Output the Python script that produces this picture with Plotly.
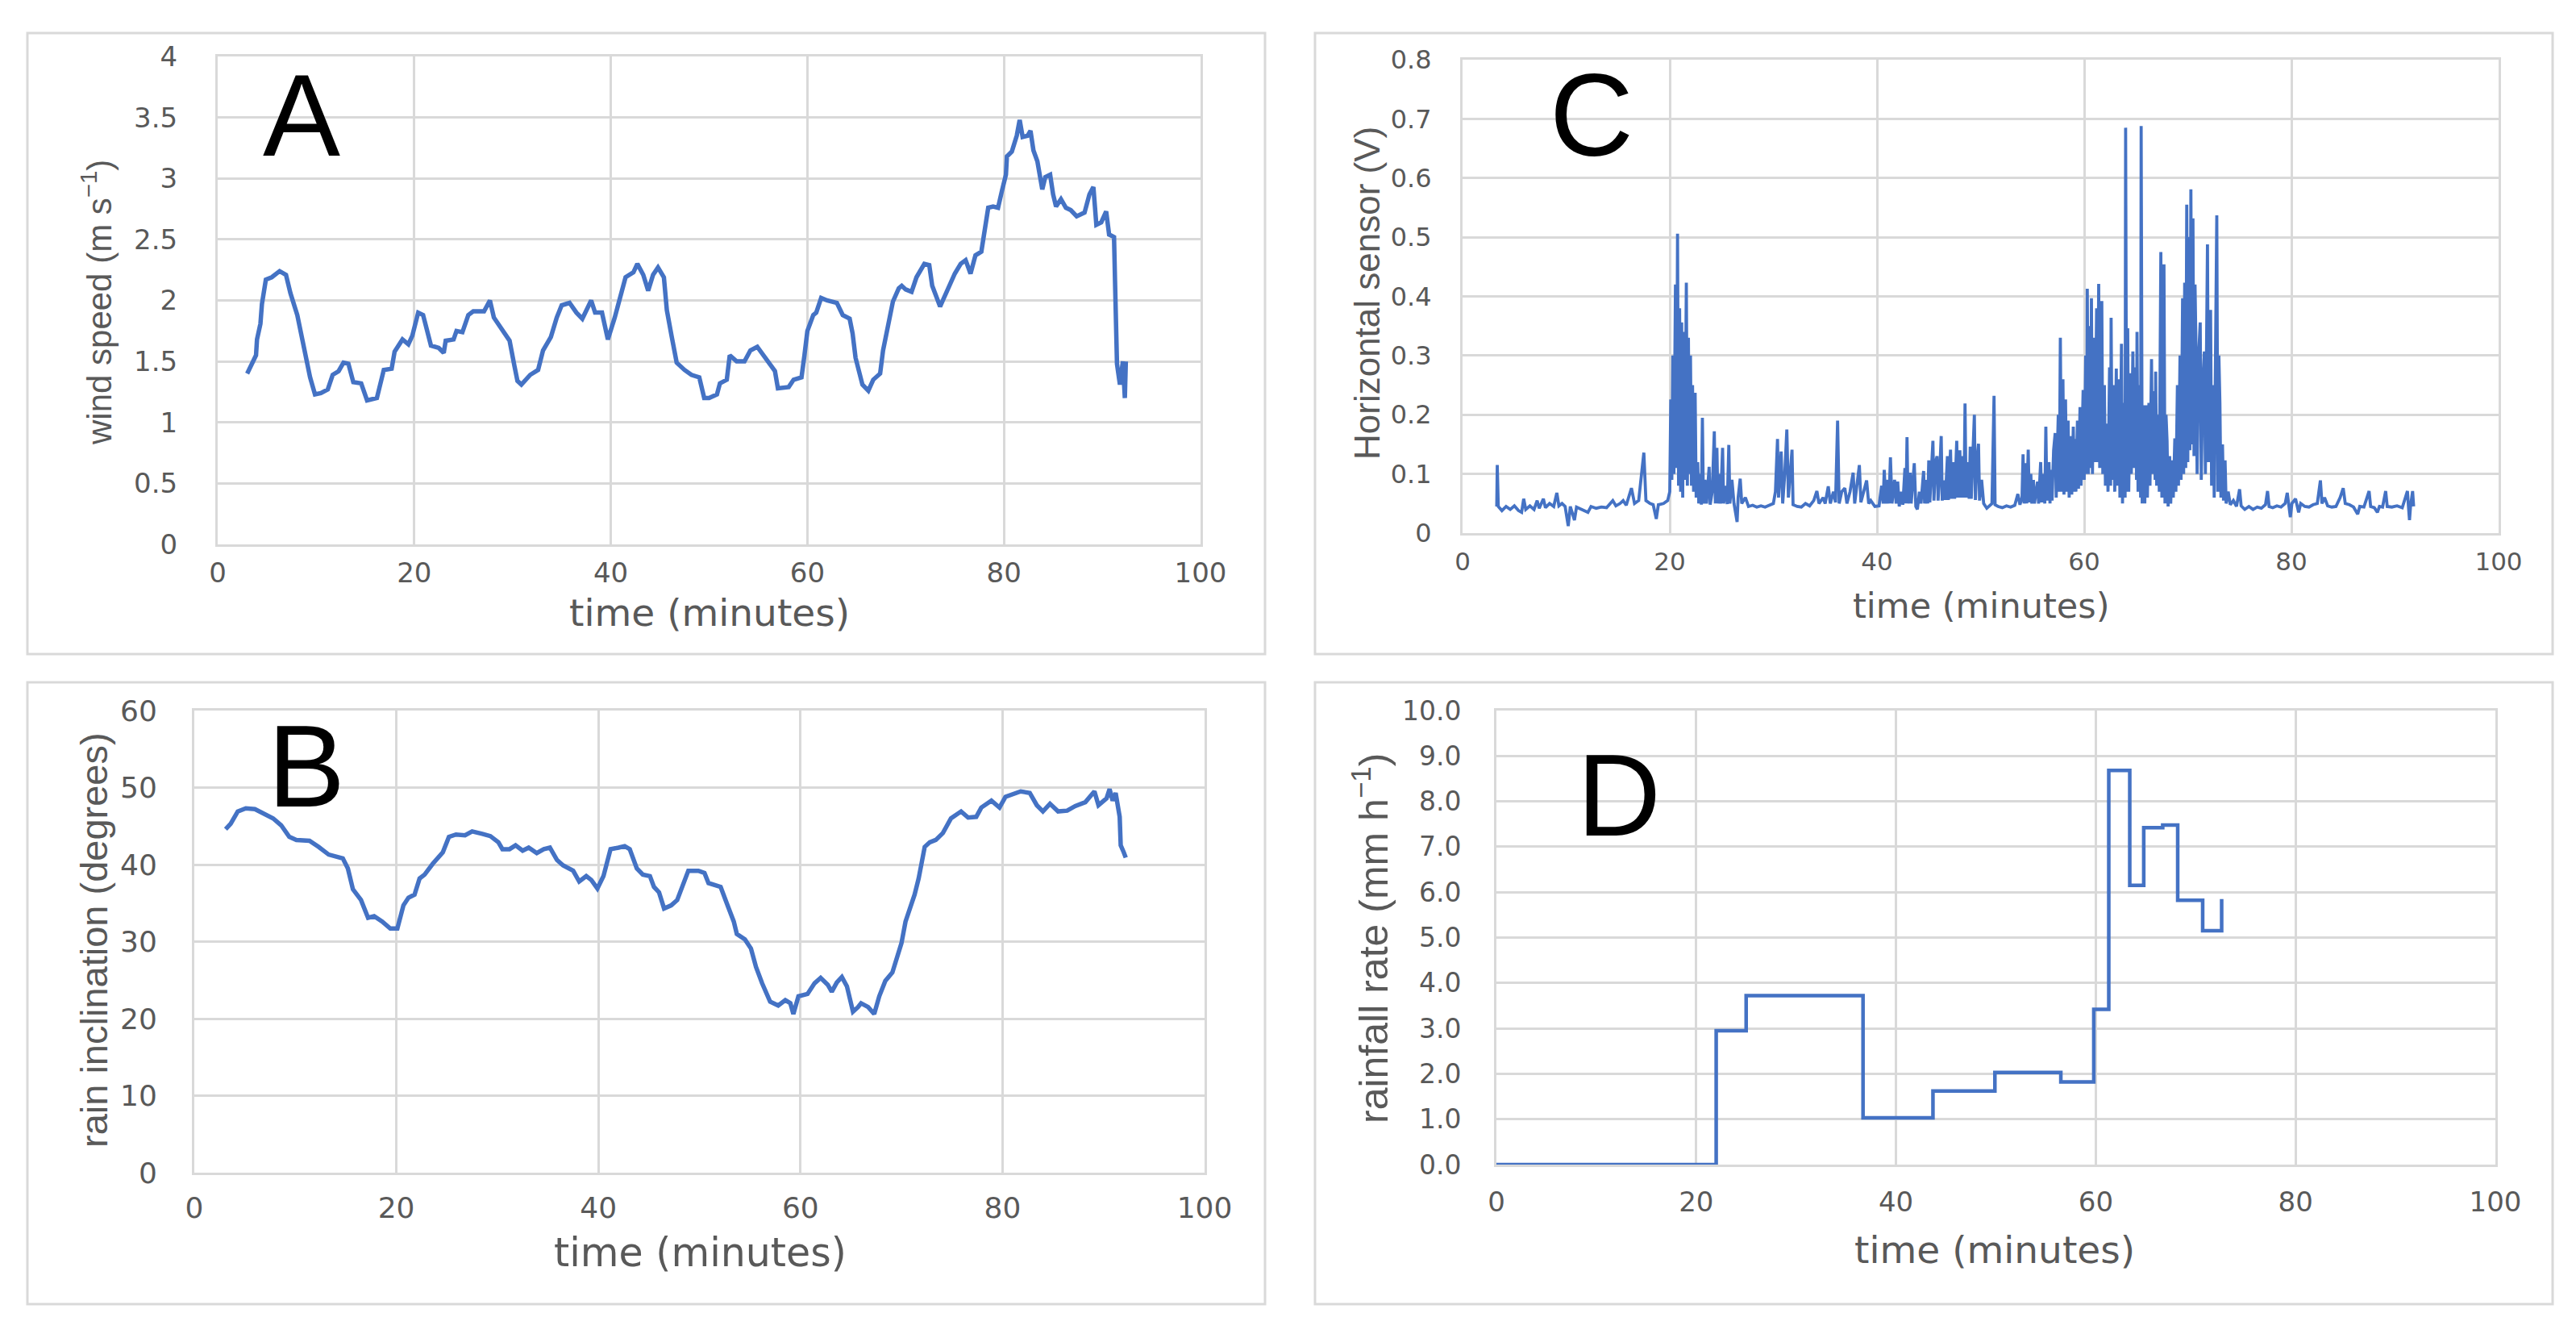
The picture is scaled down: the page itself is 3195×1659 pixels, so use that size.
import plotly.graph_objects as go

# canvas size (px) - positions below are given in canvas pixels
W, H = 3195, 1659

# ---- A: wind speed ----
a_time = [3.0, 3.4, 3.9, 4.0, 4.35, 4.5, 4.9, 5.5, 6.3, 6.95,
          7.4, 8.1, 8.6, 9.1, 9.4, 9.9, 10.5, 11.2, 11.7, 12.3,
          12.8, 13.3, 13.8, 14.6, 15.2, 16.2, 16.9, 17.7, 18.0, 18.8,
          19.4, 19.8, 20.4, 20.9, 21.7, 22.5, 23.0, 23.2, 24.0, 24.3,
          24.9, 25.5, 26.0, 27.1, 27.7, 28.1, 28.9, 29.7, 30.2, 30.5,
          30.9, 31.8, 32.6, 33.1, 33.9, 34.5, 35.0, 35.8, 36.5, 37.1,
          38.0, 38.4, 39.1, 39.7, 40.4, 41.0, 41.5, 42.3, 42.7, 43.3,
          43.8, 44.3, 44.8, 45.4, 45.7, 46.2, 46.7, 47.5, 48.2, 49.0,
          49.5, 50.0, 50.8, 51.1, 51.8, 52.1, 52.8, 53.6, 54.2, 54.9,
          55.5, 56.2, 56.7, 57.0, 58.1, 58.6, 59.4, 59.7, 60.0, 60.6,
          60.9, 61.4, 62.0, 63.0, 63.6, 64.3, 64.6, 64.9, 65.6, 66.2,
          66.7, 67.4, 67.7, 68.2, 68.7, 69.3, 69.6, 70.0, 70.6, 71.1,
          71.9, 72.4, 72.7, 73.5, 74.2, 75.0, 75.6, 76.1, 76.6, 77.1,
          77.7, 78.0, 78.4, 78.9, 79.4, 79.8, 80.2, 80.3, 80.8, 81.3,
          81.6, 81.9, 82.4, 82.7, 83.0, 83.4, 83.7, 83.9, 84.2, 84.7,
          85.0, 85.3, 85.8, 86.3, 86.8, 87.4, 88.2, 88.7, 89.1, 89.4,
          89.9, 90.4, 90.7, 91.2, 91.3, 91.5, 91.8, 92.1, 92.3, 92.4]
a_speed = [1.40, 1.46, 1.55, 1.68, 1.81, 1.97, 2.17, 2.19, 2.24, 2.21,
           2.06, 1.88, 1.68, 1.50, 1.37, 1.23, 1.24, 1.27, 1.39, 1.42,
           1.49, 1.48, 1.33, 1.32, 1.18, 1.20, 1.43, 1.44, 1.58, 1.68,
           1.64, 1.71, 1.90, 1.88, 1.63, 1.61, 1.57, 1.67, 1.68, 1.75,
           1.74, 1.88, 1.91, 1.91, 2.00, 1.86, 1.77, 1.67, 1.46, 1.34,
           1.31, 1.39, 1.43, 1.59, 1.70, 1.86, 1.96, 1.98, 1.90, 1.85,
           2.00, 1.90, 1.90, 1.68, 1.86, 2.06, 2.19, 2.23, 2.30, 2.21,
           2.08, 2.21, 2.27, 2.19, 1.92, 1.70, 1.49, 1.43, 1.39, 1.37,
           1.20, 1.20, 1.23, 1.32, 1.35, 1.55, 1.50, 1.50, 1.59, 1.62,
           1.55, 1.48, 1.42, 1.28, 1.29, 1.35, 1.37, 1.55, 1.75, 1.88,
           1.90, 2.02, 2.00, 1.98, 1.88, 1.85, 1.73, 1.53, 1.31, 1.26,
           1.35, 1.40, 1.59, 1.79, 1.99, 2.10, 2.12, 2.09, 2.07, 2.19,
           2.30, 2.29, 2.12, 1.95, 2.08, 2.22, 2.30, 2.33, 2.22, 2.37,
           2.40, 2.56, 2.76, 2.77, 2.76, 2.90, 3.03, 3.18, 3.22, 3.35,
           3.48, 3.34, 3.35, 3.39, 3.23, 3.14, 3.01, 2.91, 3.01, 3.03,
           2.87, 2.77, 2.83, 2.76, 2.74, 2.69, 2.72, 2.87, 2.93, 2.62,
           2.64, 2.73, 2.54, 2.52, 2.16, 1.48, 1.31, 1.50, 1.20, 1.50]

# ---- B: rain inclination ----
b_time = [3.1, 3.6, 4.3, 5.1, 6.0, 6.8, 7.8, 8.6, 9.4, 10.1,
          11.4, 12.3, 13.3, 14.7, 15.2, 15.7, 16.5, 17.2, 17.8, 18.6,
          19.4, 20.1, 20.7, 21.2, 21.8, 22.3, 22.8, 23.6, 24.6, 25.2,
          25.9, 26.8, 27.5, 28.5, 29.3, 30.1, 30.5, 31.2, 31.8, 32.5,
          33.1, 33.9, 34.6, 35.2, 35.9, 36.5, 37.5, 38.1, 38.8, 39.3,
          39.9, 40.5, 41.2, 42.0, 42.6, 43.1, 43.8, 44.4, 45.1, 45.5,
          46.0, 46.5, 47.2, 47.8, 48.5, 48.9, 49.9, 50.5, 50.9, 52.1,
          52.7, 53.4, 53.7, 54.5, 55.1, 55.6, 56.2, 57.0, 57.8, 58.5,
          59.0, 59.3, 59.8, 60.7, 61.4, 62.0, 62.7, 63.1, 63.6, 64.1,
          64.6, 65.2, 65.7, 66.0, 66.7, 67.3, 67.8, 68.4, 69.1, 69.6,
          70.0, 70.4, 70.8, 71.3, 71.7, 72.0, 72.3, 72.8, 73.4, 74.1,
          74.9, 75.9, 76.6, 77.4, 77.9, 78.9, 79.7, 80.3, 81.1, 81.8,
          82.7, 83.4, 84.0, 84.7, 85.5, 86.4, 87.2, 88.2, 89.1, 89.5,
          90.3, 90.6, 90.9, 91.2, 91.6, 91.7, 92.0, 92.2]
b_deg = [44.6, 45.3, 46.9, 47.3, 47.2, 46.7, 46.0, 45.1, 43.6, 43.2,
         43.1, 42.3, 41.3, 40.8, 39.5, 36.8, 35.4, 33.1, 33.3, 32.6,
         31.7, 31.7, 34.7, 35.7, 36.1, 38.2, 38.7, 40.1, 41.6, 43.6,
         43.9, 43.8, 44.3, 44.0, 43.7, 42.9, 42.0, 42.0, 42.5, 41.8,
         42.2, 41.5, 42.0, 42.2, 40.6, 39.9, 39.2, 37.8, 38.5, 38.0,
         36.9, 38.5, 42.0, 42.2, 42.4, 42.0, 39.5, 38.7, 38.5, 37.1,
         36.4, 34.3, 34.7, 35.4, 37.8, 39.2, 39.2, 38.9, 37.6, 37.1,
         35.0, 32.6, 31.0, 30.3, 29.1, 26.7, 24.6, 22.2, 21.7, 22.4,
         22.0, 20.6, 22.9, 23.2, 24.6, 25.3, 24.4, 23.5, 24.7, 25.4,
         24.2, 20.9, 21.5, 22.0, 21.5, 20.6, 22.9, 24.9, 26.0, 28.0,
         29.8, 32.6, 34.0, 36.1, 38.2, 40.2, 42.3, 42.9, 43.2, 44.1,
         46.0, 46.9, 46.1, 46.2, 47.4, 48.3, 47.4, 48.8, 49.1, 49.5,
         49.3, 47.7, 46.9, 47.9, 46.9, 47.0, 47.6, 48.1, 49.5, 47.7,
         48.6, 49.8, 48.3, 49.3, 46.2, 42.5, 41.6, 40.9]

# ---- C: horizontal sensor ----
c_time = [3.3, 3.35, 3.45, 3.8, 4.2, 4.6, 5.0, 5.4, 5.7, 5.9,
          6.1, 6.5, 6.9, 7.2, 7.4, 7.8, 8.0, 8.4, 8.8, 9.1,
          9.3, 9.6, 9.9, 10.2, 10.4, 10.8, 11.0, 11.5, 12.1, 12.4,
          12.9, 13.4, 13.9, 14.5, 14.8, 15.2, 15.5, 15.8, 16.3, 16.6,
          17.0, 17.5, 17.7, 18.1, 18.4, 18.7, 18.9, 19.4, 19.8, 20.0,
          20.1, 20.2, 20.3, 20.4, 20.55, 20.65, 20.75, 20.85, 20.95, 21.05,
          21.15, 21.25, 21.35, 21.45, 21.6, 21.7, 21.8, 21.9, 22.0, 22.1,
          22.2, 22.3, 22.45, 22.55, 22.7, 22.8, 22.95, 23.05, 23.15, 23.25,
          23.4, 23.55, 23.8, 23.9, 24.1, 24.3, 24.4, 24.55, 24.65, 24.8,
          24.9, 25.1, 25.2, 25.4, 25.55, 25.7, 25.8, 26.0, 26.2, 26.5,
          26.6, 26.8, 26.95, 27.3, 27.6, 28.0, 28.4, 28.8, 29.2, 29.6,
          30.0, 30.2, 30.4, 30.5, 30.75, 30.9, 31.1, 31.3, 31.45, 31.8,
          31.9, 32.3, 32.7, 33.1, 33.5, 33.9, 34.2, 34.4, 34.8, 35.0,
          35.3, 35.5, 35.8, 36.0, 36.2, 36.35, 36.6, 36.9, 37.1, 37.4,
          37.7, 37.85, 38.05, 38.3, 38.45, 38.7, 39.0, 39.2, 39.4, 39.8,
          40.2, 40.45, 40.6, 40.7, 40.85, 41.05, 41.15, 41.3, 41.45, 41.7,
          41.85, 42.0, 42.15, 42.35, 42.5, 42.7, 42.8, 42.9, 43.0, 43.2,
          43.3, 43.6, 43.75, 43.9, 44.1, 44.25, 44.5, 44.6, 44.8, 44.9,
          45.0, 45.1, 45.25, 45.4, 45.5, 45.65, 45.8, 45.9, 46.05, 46.2,
          46.3, 46.5, 46.6, 46.8, 46.9, 47.1, 47.2, 47.4, 47.5, 47.7,
          47.8, 48.0, 48.1, 48.3, 48.4, 48.5, 48.6, 48.8, 48.9, 49.0,
          49.1, 49.25, 49.4, 49.5, 49.65, 49.8, 49.9, 50.1, 50.3, 50.6,
          50.9, 51.1, 51.3, 51.4, 51.7, 52.1, 52.5, 52.9, 53.3, 53.6,
          53.8, 54.0, 54.1, 54.2, 54.35, 54.45, 54.6, 54.7, 54.85, 54.95,
          55.1, 55.2, 55.5, 55.6, 55.8, 55.9, 56.1, 56.2, 56.3, 56.4,
          56.6, 56.7, 56.8, 56.9, 57.05, 57.2, 57.3, 57.5, 57.6, 57.7,
          57.8, 57.95, 58.05, 58.2, 58.3, 58.45, 58.55, 58.7, 58.8, 58.95,
          59.05, 59.1, 59.2, 59.35, 59.45, 59.6, 59.7, 59.9, 60.0, 60.15,
          60.25, 60.3, 60.4, 60.55, 60.65, 60.7, 60.8, 60.95, 61.05, 61.2,
          61.3, 61.4, 61.5, 61.6, 61.7, 61.8, 61.95, 62.05, 62.2, 62.3,
          62.45, 62.55, 62.6, 62.7, 62.85, 62.95, 63.1, 63.2, 63.35, 63.45,
          63.6, 63.7, 63.85, 63.95, 64.0, 64.1, 64.2, 64.3, 64.45, 64.55,
          64.7, 64.8, 64.95, 65.05, 65.1, 65.2, 65.35, 65.45, 65.5, 65.6,
          65.75, 65.85, 66.0, 66.1, 66.25, 66.35, 66.5, 66.6, 66.75, 66.85,
          66.9, 67.0, 67.15, 67.25, 67.4, 67.5, 67.6, 67.7, 67.8, 67.9,
          68.0, 68.1, 68.25, 68.35, 68.5, 68.6, 68.75, 68.85, 69.0, 69.1,
          69.25, 69.35, 69.5, 69.6, 69.7, 69.8, 69.9, 70.0, 70.1, 70.2,
          70.3, 70.4, 70.5, 70.6, 70.7, 70.8, 70.9, 71.05, 71.2, 71.3,
          71.45, 71.6, 71.7, 71.9, 72.0, 72.1, 72.2, 72.3, 72.45, 72.55,
          72.8, 72.9, 73.0, 73.1, 73.2, 73.35, 73.45, 73.6, 73.7, 73.9,
          74.1, 74.4, 74.7, 75.0, 75.15, 75.5, 75.9, 76.3, 76.7, 77.1,
          77.5, 77.7, 77.85, 78.2, 78.6, 79.0, 79.4, 79.6, 79.75, 79.9,
          80.05, 80.4, 80.7, 80.9, 81.3, 81.7, 82.1, 82.5, 82.8, 82.95,
          83.2, 83.5, 83.9, 84.3, 84.7, 85.0, 85.2, 85.6, 86.0, 86.4,
          86.6, 87.0, 87.5, 87.65, 88.0, 88.3, 88.5, 88.8, 89.1, 89.25,
          89.7, 90.2, 90.7, 91.2, 91.3, 91.4, 91.5, 91.7, 91.8]
c_volt = [.045, .115, .045, .038, .045, .040, .046, .038, .035, .058,
          .040, .046, .040, .055, .042, .058, .043, .050, .045, .068,
          .046, .050, .045, .012, .045, .022, .044, .040, .035, .045,
          .042, .044, .043, .055, .046, .050, .055, .047, .076, .050,
          .055, .136, .055, .050, .048, .024, .048, .050, .055, .070,
          .226, .090, .300, .100, .420, .110, .506, .080, .380, .070,
          .356, .060, .340, .090, .423, .080, .330, .100, .300, .080,
          .250, .070, .237, .060, .120, .050, .100, .048, .195, .050,
          .090, .050, .112, .048, .070, .172, .050, .144, .050, .100,
          .050, .144, .050, .080, .049, .149, .050, .090, .050, .019,
          .060, .092, .050, .060, .045, .047, .044, .046, .044, .047,
          .050, .070, .159, .060, .138, .050, .100, .175, .060, .141,
          .048, .045, .044, .050, .046, .055, .071, .050, .060, .050,
          .079, .050, .070, .052, .190, .050, .070, .076, .050, .070,
          .102, .050, .080, .115, .052, .070, .089, .050, .055, .045,
          .046, .080, .050, .107, .050, .090, .050, .128, .050, .090,
          .050, .087, .045, .070, .048, .110, .050, .162, .050, .102,
          .050, .118, .045, .040, .070, .050, .105, .050, .090, .050,
          .123, .052, .110, .156, .055, .120, .130, .055, .100, .164,
          .055, .089, .056, .130, .056, .141, .058, .120, .058, .156,
          .060, .140, .060, .130, .060, .219, .060, .120, .058, .146,
          .058, .130, .200, .056, .120, .151, .055, .090, .050, .042,
          .046, .050, .232, .048, .045, .043, .046, .044, .047, .066,
          .048, .060, .133, .050, .118, .050, .141, .052, .100, .050,
          .090, .050, .087, .050, .120, .052, .100, .050, .180, .055,
          .120, .050, .107, .055, .140, .169, .060, .200, .070, .330,
          .070, .260, .065, .226, .070, .190, .060, .164, .065, .180,
          .070, .159, .070, .190, .075, .213, .080, .242, .090, .300,
          .100, .413, .100, .350, .110, .397, .100, .330, .120, .380,
          .120, .421, .110, .360, .392, .100, .250, .080, .185, .070,
          .280, .080, .364, .090, .250, .070, .278, .080, .260, .060,
          .320, .050, .220, .060, .685, .070, .346, .070, .270, .100,
          .307, .110, .280, .090, .340, .070, .250, .060, .688, .050,
          .216, .050, .216, .060, .220, .080, .294, .100, .240, .090,
          .273, .080, .200, .070, .475, .060, .420, .454, .050, .200,
          .156, .045, .130, .050, .123, .060, .160, .070, .250, .080,
          .300, .090, .397, .100, .423, .110, .555, .120, .500, .140,
          .581, .150, .532, .130, .420, .304, .100, .300, .356, .090,
          .250, .307, .100, .488, .120, .300, .377, .080, .250, .060,
          .537, .070, .300, .221, .060, .150, .055, .123, .050, .070,
          .048, .055, .045, .074, .046, .040, .045, .040, .044, .042,
          .048, .071, .045, .043, .046, .044, .050, .068, .045, .027,
          .050, .058, .035, .050, .045, .044, .048, .050, .089, .050,
          .060, .046, .044, .045, .060, .076, .050, .048, .044, .032,
          .045, .044, .071, .045, .043, .035, .045, .044, .071, .045,
          .044, .046, .043, .071, .045, .022, .045, .071, .045]

# ---- D: rainfall rate (step) ----
d_time = [0, 22.0, 25.0, 36.7, 43.7, 49.9, 56.5, 59.8, 61.3, 63.4, 64.8, 66.7, 68.2, 70.7, 72.6]
d_rate = [0.0, 2.95, 3.72, 1.03, 1.62, 2.03, 1.82, 3.42, 8.68, 6.15, 7.42, 7.48, 5.82, 5.15, 5.85]

BLUE = "#4472C4"
GRID = "#D9D9D9"
TXT = "#595959"


def px(x):
    return x / W


def py(y):
    return 1 - y / H


def xax(x0, x1, anchor, size, ticklen):
    return dict(domain=[px(x0), px(x1)], anchor=anchor, range=[0, 100], dtick=20, tick0=0,
                showgrid=True, gridcolor=GRID, gridwidth=2.5, zeroline=False, automargin=False,
                showline=True, linecolor=GRID, linewidth=3, mirror=True,
                ticks="outside", ticklen=ticklen, tickcolor="rgba(0,0,0,0)",
                tickfont=dict(family="DejaVu Sans", size=size, color=TXT))


def yax(y0, y1, anchor, rng, dtick, size, ticklen, fmt=""):
    return dict(domain=[py(y1), py(y0)], anchor=anchor, range=rng, dtick=dtick, tick0=0,
                tickformat=fmt, showgrid=True, gridcolor=GRID, gridwidth=3, zeroline=False,
                automargin=False, showline=True, linecolor=GRID, linewidth=3, mirror=True,
                ticks="outside", ticklen=ticklen, tickcolor="rgba(0,0,0,0)",
                tickfont=dict(family="DejaVu Sans", size=size, color=TXT))


fig = go.Figure()
fig.add_trace(go.Scatter(x=a_time, y=a_speed, mode="lines",
                         line=dict(color=BLUE, width=5.5), xaxis="x", yaxis="y"))
fig.add_trace(go.Scatter(x=c_time, y=c_volt, mode="lines",
                         line=dict(color=BLUE, width=3.8), xaxis="x2", yaxis="y2"))
fig.add_trace(go.Scatter(x=b_time, y=b_deg, mode="lines",
                         line=dict(color=BLUE, width=5.5), xaxis="x3", yaxis="y3"))
fig.add_trace(go.Scatter(x=d_time, y=d_rate, mode="lines", line_shape="hv",
                         line=dict(color=BLUE, width=4.5), xaxis="x4", yaxis="y4"))

# panel frames
frames = [(34, 41, 1569, 811), (1631, 41, 3166, 811),
          (34, 846, 1569, 1617), (1631, 846, 3166, 1617)]
shapes = [dict(type="rect", xref="paper", yref="paper",
               x0=px(a), x1=px(c), y0=py(d), y1=py(b),
               line=dict(color=GRID, width=3), layer="below")
          for a, b, c, d in frames]

ann = []


def label(x, y, text, size, angle=0, family="DejaVu Sans", color=TXT):
    ann.append(dict(x=px(x), y=py(y), xref="paper", yref="paper", text=text,
                    showarrow=False, textangle=angle, xanchor="center", yanchor="middle",
                    font=dict(family=family, size=size, color=color)))


# x titles
label(880, 759, "time (minutes)", 47)
label(2457, 751, "time (minutes)", 43)
label(868, 1553, "time (minutes)", 49)
label(2474, 1549, "time (minutes)", 47)
# y titles
label(120, 375, "wind speed (m s<sup>−1</sup>)", 42, -90, "Liberation Sans")
label(1695, 364, "Horizontal sensor (V)", 44, -90, "Liberation Sans")
label(116, 1166, "rain inclination (degrees)", 47, -90, "Liberation Sans")
label(1700, 1164, "rainfall rate (mm h<sup>−1</sup>)", 50, -90, "Liberation Sans")
# panel letters
for x, y, t in [(374, 143, "A"), (1974, 144, "C"), (380, 950, "B"), (2008, 986, "D")]:
    label(x, y, t, 144, 0, "Liberation Sans", "black")

fig.update_layout(
    width=W, height=H, margin=dict(l=0, r=0, t=0, b=0, pad=0),
    paper_bgcolor="white", plot_bgcolor="white", showlegend=False,
    xaxis=xax(270, 1489, "y", 34, 3),
    yaxis=yax(70, 675, "x", [0, 4], 0.5, 34, 40),
    xaxis2=xax(1814, 3099, "y2", 31, 6),
    yaxis2=yax(74, 661, "x2", [0, 0.8], 0.1, 32, 29),
    xaxis3=xax(241, 1494, "y3", 36, 10),
    yaxis3=yax(881, 1454, "x3", [0, 60], 10, 36, 36),
    xaxis4=xax(1856, 3095, "y4", 34, 14),
    yaxis4=yax(881, 1444, "x4", [0, 10], 1, 33, 34, ".1f"),
    shapes=shapes, annotations=ann,
)

# page body has a default margin; drop it so the figure sits at the window origin
fig.write_html("out.html", config={"displayModeBar": False},
               post_script="document.body.style.margin='0';")
